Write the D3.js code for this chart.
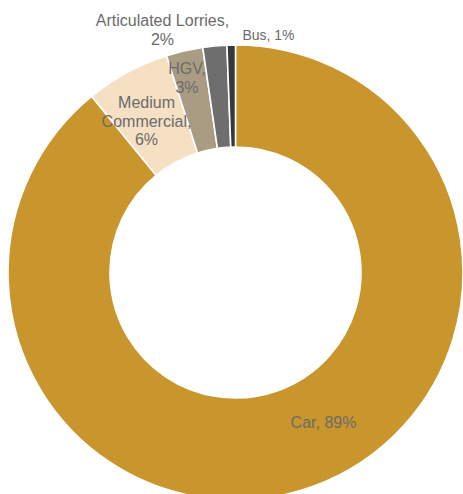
<!DOCTYPE html>
<html>
<head>
<meta charset="utf-8">
<script src="https://cdn.jsdelivr.net/npm/d3@7"></script>
<style>
  html, body { margin: 0; padding: 0; background: #fff; }
  svg { display: block; }
  text { font-family: "Liberation Sans", Arial, sans-serif; }
</style>
</head>
<body>
<svg id="chart" width="463" height="494"></svg>
<script>
// Share of vehicle kilometres by vehicle type (%)
const categories = ["Car", "Medium Commercial", "HGV", "Articulated Lorries", "Bus"];
const shares = [89.1, 6.0, 2.6, 1.7, 0.6];
const colors = ["#C9952D", "#F6E0C4", "#A99C83", "#6E6E6E", "#383838"];

const data = categories.map((c, i) => ({ name: c, value: shares[i], color: colors[i] }));

const width = 463, height = 494;
const cx = 235.5, cy = 272.5;
const outerR = 227.5, innerR = 125.5;

// Label placement relative to the ring centre, plus a wrap width for each label
const labelLayout = {
  "Car":                 { dx: 88,    dy: 150,    wrap: 200, size: 16 },
  "Medium Commercial":   { dx: -89,   dy: -151.5, wrap: 100, size: 16 },
  "HGV":                 { dx: -48.5, dy: -194.5, wrap: 40,  size: 16 },
  "Articulated Lorries": { dx: -73,   dy: -242.5, wrap: 150, size: 16 },
  "Bus":                 { dx: 33,    dy: -237.5, wrap: 200, size: 14 }
};
const lineH = 18.5;

const svg = d3.select("#chart");
const g = svg.append("g").attr("transform", `translate(${cx},${cy})`);

const pie = d3.pie().value(d => d.value).sort(null).startAngle(0).endAngle(2 * Math.PI);
const arc = d3.arc().innerRadius(innerR).outerRadius(outerR);

g.selectAll("path.slice")
  .data(pie(data))
  .join("path")
  .attr("class", "slice")
  .attr("d", arc)
  .attr("fill", d => d.data.color)
  .attr("stroke", "#fff")
  .attr("stroke-width", 1.6)
  .attr("stroke-linejoin", "round");

// Data labels: "Name, NN%", wrapped into lines
const labels = g.selectAll("text.lbl")
  .data(data)
  .join("text")
  .attr("class", "lbl")
  .attr("text-anchor", "middle")
  .attr("font-size", d => labelLayout[d.name].size)
  .attr("fill", "#6B6B6B");

labels.each(function(d) {
  const t = d3.select(this);
  const lay = labelLayout[d.name];
  const words = `${d.name}, ${Math.round(d.value)}%`.split(" ");
  const lines = [];
  let cur = [];
  const probe = t.append("tspan");
  words.forEach(w => {
    const trial = cur.concat([w]).join(" ");
    probe.text(trial);
    if (cur.length && probe.node().getComputedTextLength() > lay.wrap) {
      lines.push(cur.join(" "));
      cur = [w];
    } else {
      cur.push(w);
    }
  });
  if (cur.length) lines.push(cur.join(" "));
  probe.remove();
  const top = lay.dy - (lines.length - 1) * lineH / 2 + lay.size * 0.35;
  lines.forEach((ln, i) => {
    t.append("tspan")
      .attr("x", lay.dx)
      .attr("y", top + i * lineH)
      .text(ln);
  });
});
</script>
</body>
</html>
